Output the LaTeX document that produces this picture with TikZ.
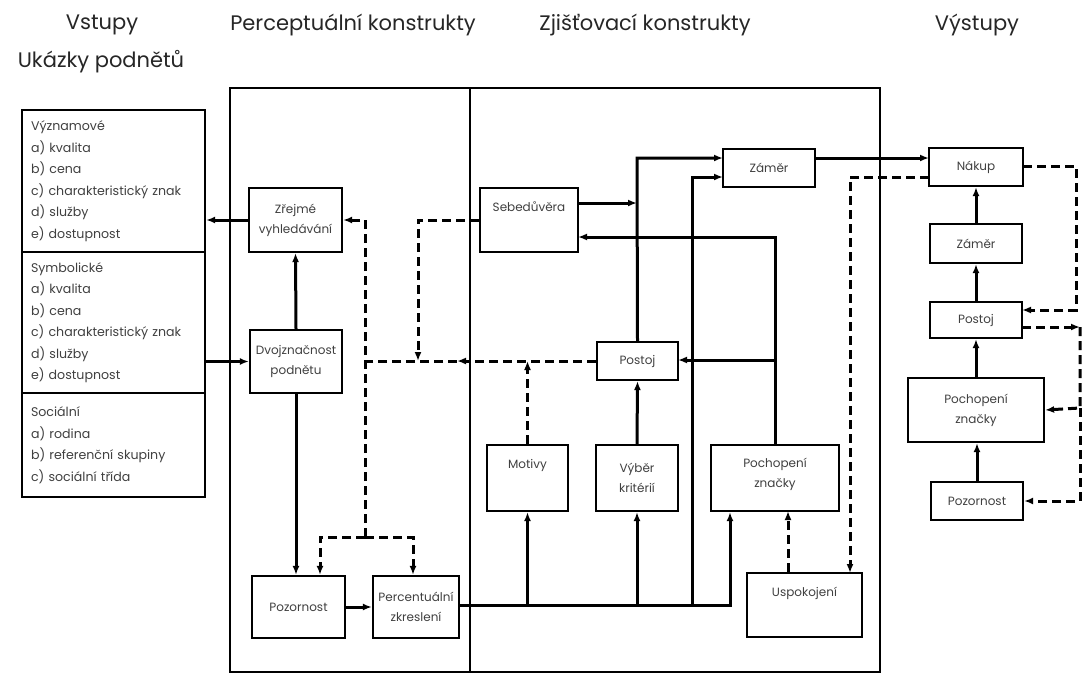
\documentclass[tikz,border=0pt]{standalone}
\usepackage{fontspec}
\setmainfont{Poppins}
\usetikzlibrary{arrows.meta}
\begin{document}
\begin{tikzpicture}[x=1pt,y=-1pt,
  box/.style={draw, line width=2.2pt, inner sep=1pt, align=center, text=black!75,
    font=\fontsize{12}{20}\selectfont},
  inbox/.style={draw, line width=2.2pt, inner xsep=9pt, inner ysep=2pt, align=left, text=black!75,
    font=\fontsize{12.6}{21.5}\selectfont, text width=165pt},
  hdr/.style={text=black!85, font=\fontsize{21}{24}\selectfont, inner sep=0pt},
  conn/.style={line width=3pt, -{Latex[length=9pt,width=7pt]}},
  dsh/.style={line width=3pt, dash pattern=on 9pt off 5pt},
  darr/.style={dsh, -{Latex[length=9pt,width=7pt]}},
  frame/.style={line width=1.3pt}]
\useasboundingbox (0,0) rectangle (1082,675);
\fill[white] (0,0) rectangle (1082,675);

% headers
\node[hdr] (h1) at (102,25) {Vstupy};
\node[hdr] (h2) at (101,62) {Ukázky podnětů};
\node[hdr] (h3) at (353,25) {Perceptuální konstrukty};
\node[hdr] (h4) at (645,25) {Zjišťovací konstrukty};
\node[hdr] (h5) at (977,25) {Výstupy};

% frame
\draw[frame] (230,88) rectangle (880,672);
\draw[frame] (470,88) -- (470,672);

% input boxes
\node[inbox, minimum height=142pt] (vyz) at (113.5,181) {Významové\\a) kvalita\\b) cena\\c) charakteristický znak\\d) služby\\e) dostupnost};
\node[inbox, minimum height=141pt] (sym) at (113.5,322.5) {Symbolické\\a) kvalita\\b) cena\\c) charakteristický znak\\d) služby\\e) dostupnost};
\node[inbox, minimum height=104pt] (soc) at (113.5,445) {Sociální\\a) rodina\\b) referenční skupiny\\c) sociální třída};

% perceptual
\node[box, minimum width=93pt, minimum height=64pt] (zv) at (295.5,220) {Zřejmé\\vyhledávání};
\node[box, minimum width=92pt, minimum height=63pt] (dp) at (296,361.5) {Dvojznačnost\\podnětu};
\node[box, minimum width=93pt, minimum height=62pt] (poz) at (298.5,607) {Pozornost};
\node[box, minimum width=86pt, minimum height=62pt] (pz) at (416,607) {Percentuální\\zkreslení};

% learning
\node[box, minimum width=98pt, minimum height=64pt, text depth=26pt] (seb) at (529,220) {Sebedůvěra};
\node[box, minimum width=92pt, minimum height=38pt] (zam) at (769,168) {Záměr};
\node[box, minimum width=81pt, minimum height=38pt] (pos) at (637.5,361) {Postoj};
\node[box, minimum width=81pt, minimum height=66pt, text depth=28pt] (mot) at (527.5,478) {Motivy};
\node[box, minimum width=82pt, minimum height=66pt] (vk) at (637,478) {Výběr\\kritérií};
\node[box, minimum width=128pt, minimum height=66pt, text depth=10pt] (pzn) at (775,478) {Pochopení\\značky};
\node[box, minimum width=115pt, minimum height=64pt, text depth=26pt] (usp) at (804.5,605) {Uspokojení};

% outputs
\node[box, minimum width=94pt, minimum height=38pt] (nak) at (976,167) {Nákup};
\node[box, minimum width=92pt, minimum height=39pt] (zam2) at (976,243.5) {Záměr};
\node[box, minimum width=92pt, minimum height=36pt] (pos2) at (976,320) {Postoj};
\node[box, minimum width=136pt, minimum height=64pt] (pzn2) at (976,410) {Pochopení\\značky};
\node[box, minimum width=92pt, minimum height=38pt] (poz2) at (977,501) {Pozornost};

% coordinates
\coordinate (bus) at (730,605);
\coordinate (sebA) at (637,203);
\coordinate (sebB) at (578,237);
\coordinate (zamA) at (723,158);
\coordinate (zamB) at (723,177);
\coordinate (posE) at (678,360);
\coordinate (nakW) at (929,158);
\coordinate (dm) at (457,361);
\coordinate (dl) at (365,361);
\coordinate (dv) at (365,537);
\coordinate (dr) at (413,537);
\coordinate (dll) at (320,537);
\coordinate (sebJ) at (418,361);
\coordinate (motJ) at (527.5,361);
\coordinate (uspN) at (850,573);
\coordinate (nakW2) at (929,177);
\coordinate (nakE) at (1023,166);
\coordinate (pos2in) at (1022,310);
\coordinate (pos2out) at (1022,327);
\coordinate (rt) at (1080,327);

% solid connectors
\draw[conn] (zv.west) -- (zv.west -| vyz.east);
\draw[conn] (sym.east |- dp.west) -- (dp.west);
\draw[conn] (dp.north) -- (zv.south);
\draw[conn] (dp.south) -- (dp.south |- poz.north);
\draw[conn] (poz.east) -- (pz.west);
\draw[conn] (pz.east |- bus) -- (bus) -- (bus |- pzn.south);
\draw[conn] (mot.south |- bus) -- (mot.south);
\draw[conn] (vk.south |- bus) -- (vk.south);
\draw[conn] (692,605) -- (692,177) -- (zamB);
\draw[conn] (vk.north) -- (pos.south);
\draw[conn] (pos.north) -- (637,158) -- (zamA);
\draw[conn] (seb.east |- sebA) -- (sebA);
\draw[conn] (pzn.north) -- (775,237) -- (sebB);
\draw[conn] (775,360) -- (posE);
\draw[conn] (zam.east |- nakW) -- (nakW);
\draw[conn] (poz2.north) -- (poz2.north |- pzn2.south);
\draw[conn] (pzn2.north) -- (pzn2.north |- pos2.south);
\draw[conn] (pos2.north) -- (zam2.south);
\draw[conn] (zam2.north) -- (nak.south);

% dashed connectors
\draw[darr] (pos.west) -- (dm);
\draw[dsh] (dm) -- (dl);
\draw[darr] (dv) |- (zv.east);
\draw[darr] (dv) -| (dll) -- (dll |- poz.north);
\draw[darr] (dv) -| (dr) -- (dr |- pz.north);
\draw[darr] (seb.west) -| (sebJ);
\draw[darr] (mot.north) -- (motJ);
\draw[darr] (usp.north -| 788,0) -- (788,511);
\draw[darr] (nakW2) -| (uspN);
\draw[darr] (nakE) -- (1076,166) -- (1076,310) -- (pos2in);
\draw[darr] (pos2out) -- (rt);
\draw[darr] (rt) -- (1080,408) -- (pzn2.east);
\draw[darr] (1080,408) -- (1080,501) -- (poz2.east);
\end{tikzpicture}
\end{document}
